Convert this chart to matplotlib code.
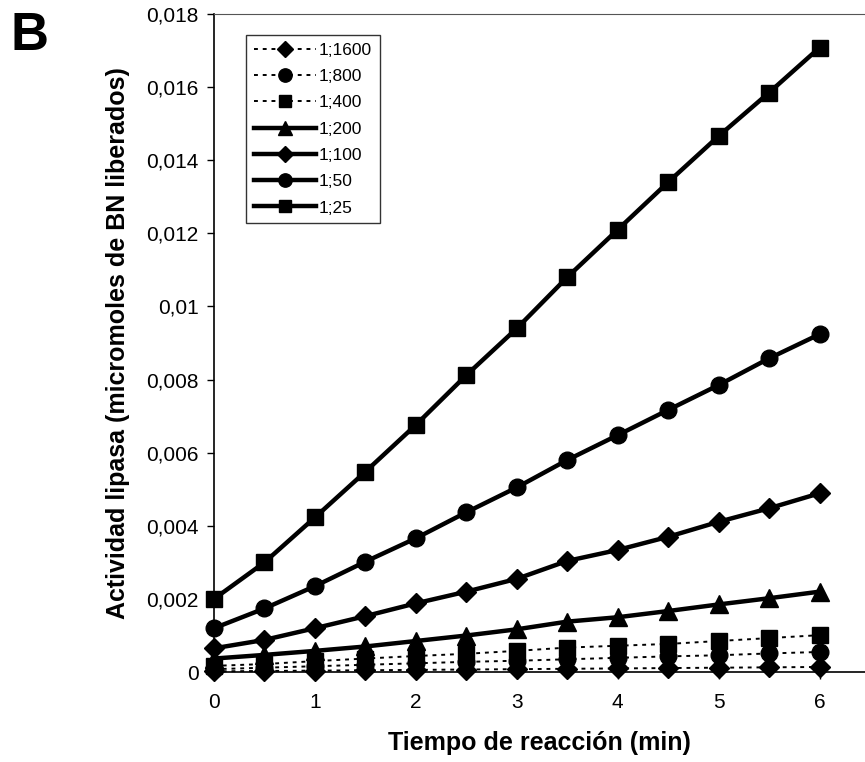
import numpy as np
import matplotlib
matplotlib.use('Agg')
import matplotlib.pyplot as plt
from matplotlib.ticker import FuncFormatter, MultipleLocator

plt.rcParams['font.family'] = ['Liberation Sans', 'DejaVu Sans']

# tiempo de reaccion (min)
tiempo = [0, 0.5, 1, 1.5, 2, 2.5, 3, 3.5, 4, 4.5, 5, 5.5, 6]

# actividad lipasa por dilucion
d1600 = [0.00002, 0.00003, 0.00004, 0.00005, 0.00006, 0.00007, 0.00008,
         0.00009, 0.0001, 0.00011, 0.00012, 0.00013, 0.00014]
d800 = [0.00008, 0.00012, 0.00016, 0.0002, 0.00024, 0.00028, 0.00031,
        0.00035, 0.00039, 0.00043, 0.00046, 0.00051, 0.00055]
d400 = [0.00017, 0.00022, 0.0003, 0.00037, 0.00044, 0.0005, 0.00058,
        0.00067, 0.00072, 0.00077, 0.00085, 0.00093, 0.00101]
d200 = [0.00037, 0.00047, 0.00058, 0.0007, 0.00085, 0.001, 0.00117,
        0.00138, 0.0015, 0.00167, 0.00185, 0.00202, 0.0022]
d100 = [0.00065, 0.00088, 0.0012, 0.00153, 0.00188, 0.0022, 0.00255,
        0.00304, 0.00334, 0.0037, 0.00411, 0.00448, 0.00489]
d50 = [0.0012, 0.00174, 0.00235, 0.00302, 0.00366, 0.00437, 0.00505,
       0.0058, 0.00648, 0.00717, 0.00785, 0.00858, 0.00924]
d25 = [0.002, 0.003, 0.00423, 0.00548, 0.00676, 0.00812, 0.0094,
       0.0108, 0.0121, 0.0134, 0.01466, 0.01585, 0.01708]

etiquetas = ['1;1600', '1;800', '1;400', '1;200', '1;100', '1;50', '1;25']
series = [d1600, d800, d400, d200, d100, d50, d25]
marcadores = ['D', 'o', 's', '^', 'D', 'o', 's']
tamanos = [10.5, 12, 11.5, 12.5, 10.5, 12, 11.5]
punteada = [True, True, True, False, False, False, False]

fig = plt.figure(figsize=(8.65, 7.62), dpi=100)
ax = fig.add_axes([0.2474, 0.118, 0.7526, 0.8637])

for y, lab, m, ms, dot in zip(series, etiquetas, marcadores, tamanos, punteada):
    if dot:
        ax.plot(tiempo, y, color='black', ls=(0, (2, 2.5)), lw=1.4,
                marker=m, ms=ms, mfc='black', mec='black', label=lab,
                clip_on=False, zorder=3)
    else:
        ax.plot(tiempo, y, color='black', ls='-', lw=3.2,
                marker=m, ms=ms, mfc='black', mec='black', label=lab,
                clip_on=False, zorder=4)

ax.set_xlim(0, 6.45)
ax.set_ylim(0, 0.018)
ax.xaxis.set_major_locator(MultipleLocator(1))
ax.yaxis.set_major_locator(MultipleLocator(0.002))
ax.yaxis.set_major_formatter(FuncFormatter(lambda v, p: ('%g' % round(v, 4)).replace('.', ',')))
ax.tick_params(direction='out', length=5, width=1, labelsize=15)
ax.tick_params(axis='x', pad=10)
ax.tick_params(axis='y', pad=6)

ax.spines['right'].set_visible(False)
ax.spines['top'].set_color('#555555')
for s in ['left', 'bottom']:
    ax.spines[s].set_linewidth(1.2)

ax.set_xlabel('Tiempo de reacción (min)', fontsize=18, fontweight='bold', labelpad=14)
ax.set_ylabel('Actividad lipasa (micromoles de BN liberados)', fontsize=18,
              fontweight='bold', labelpad=12)

leg = ax.legend(loc='upper left', bbox_to_anchor=(0.049, 0.968), borderaxespad=0,
                fontsize=12.5, frameon=True, fancybox=False, edgecolor='black',
                handlelength=3.6, handletextpad=0.15, labelspacing=0.64,
                borderpad=0.45, markerscale=0.8, numpoints=1)
leg.get_frame().set_linewidth(1.0)

fig.text(0.012, 0.986, 'B', fontsize=38, fontweight='bold', va='top', ha='left')

fig.savefig('out.png', dpi=100)
